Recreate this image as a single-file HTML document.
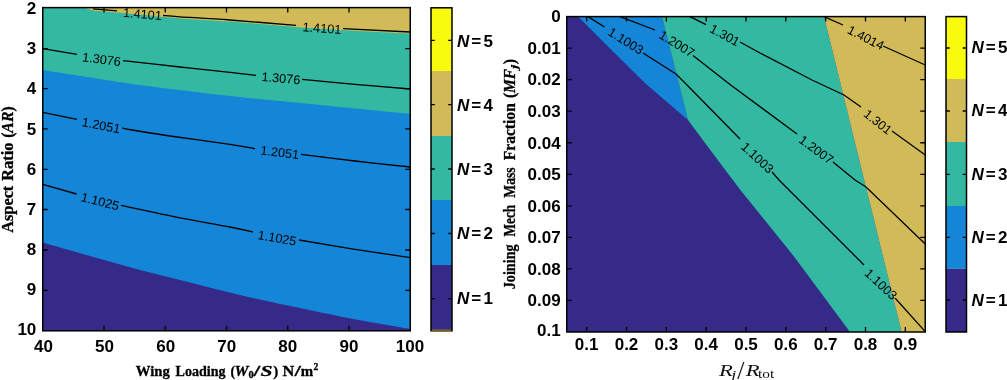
<!DOCTYPE html>
<html><head><meta charset="utf-8"><title>Contour plots</title>
<style>
html,body{margin:0;padding:0;background:#fff;}
svg{display:block;}
.tk{font-family:"Liberation Sans",sans-serif;font-weight:bold;font-size:17px;fill:#000;}
.cl{font-family:"Liberation Sans",sans-serif;font-size:12.7px;fill:#000;text-anchor:middle;}
.sl{font-family:"Liberation Serif",serif;font-size:15px;fill:#000;font-weight:bold;stroke:#000;stroke-width:0.3px;}
.ln{fill:none;stroke:#000;stroke-width:1.5;}
.ct{fill:none;stroke:#000;stroke-width:1.3;}
.tl{fill:none;stroke:#000;stroke-width:1.3;}
</style></head><body>
<svg width="1007" height="380" viewBox="0 0 1007 380">
<rect x="0" y="0" width="1007" height="380" fill="#fff"/>
<g id="leftplot">
<rect x="42.75" y="7.6" width="367.5" height="323.2" fill="#1485D7"/>
<path d="M42.75 70.00 C58.96 72.50 107.96 80.58 140.00 85.00 C172.04 89.42 204.17 93.07 235.00 96.50 C265.83 99.93 295.79 102.68 325.00 105.60 C354.21 108.52 396.04 112.60 410.25 114.00 L410.25 7.6 L42.75 7.6 Z" fill="#33B8A1"/>
<path d="M85.00 7.60 C86.33 8.07 87.67 9.60 93.00 10.40 C98.33 11.20 108.83 11.67 117.00 12.40 C125.17 13.13 134.33 14.02 142.00 14.80 C149.67 15.58 156.67 16.50 163.00 17.10 C169.33 17.70 168.83 17.65 180.00 18.40 C191.17 19.15 210.67 20.17 230.00 21.60 C249.33 23.03 280.83 25.80 296.00 27.00 C311.17 28.20 313.17 28.27 321.00 28.80 C328.83 29.33 328.12 29.40 343.00 30.20 C357.88 31.00 399.04 33.03 410.25 33.60 L410.25 7.6 L85 7.6 Z" fill="#D1BB59"/>
<path d="M42.75 242.40 C50.62 244.67 73.79 251.40 90.00 256.00 C106.21 260.60 123.33 265.60 140.00 270.00 C156.67 274.40 173.33 278.23 190.00 282.40 C206.67 286.57 223.67 291.13 240.00 295.00 C256.33 298.87 270.00 301.77 288.00 305.60 C306.00 309.43 327.62 314.10 348.00 318.00 C368.38 321.90 399.88 327.17 410.25 329.00 L410.25 330.8 L42.75 330.8 Z" fill="#352A87"/>
<path class="ct" d="M93.00 8.80 L117.00 10.80"/>
<path class="ct" d="M163.00 15.50 C165.83 15.72 168.83 16.05 180.00 16.80 C191.17 17.55 210.67 18.57 230.00 20.00 C249.33 21.43 285.00 24.50 296.00 25.40"/>
<path class="ct" d="M343.00 28.60 L410.25 32.00"/>
<text class="cl" transform="translate(142.5 13.9) rotate(5)" y="4.6">1.4101</text>
<text class="cl" transform="translate(322 28.1) rotate(4)" y="4.6">1.4101</text>
<path class="ct" d="M42.75 48.60 L77.00 54.40"/>
<path class="ct" d="M123.00 60.60 C132.50 61.67 162.17 65.03 180.00 67.00 C197.83 68.97 217.33 71.00 230.00 72.40 C242.67 73.80 251.67 74.90 256.00 75.40"/>
<path class="ct" d="M302.00 79.40 C310.83 80.22 336.96 82.70 355.00 84.30 C373.04 85.90 401.04 88.22 410.25 89.00"/>
<text class="cl" transform="translate(101.5 59.1) rotate(7.5)" y="4.6">1.3076</text>
<text class="cl" transform="translate(281 78) rotate(5)" y="4.6">1.3076</text>
<path class="ct" d="M42.75 112.40 L77.00 119.40"/>
<path class="ct" d="M122.40 128.00 C124.00 128.33 124.07 128.67 132.00 130.00 C139.93 131.33 153.67 133.60 170.00 136.00 C186.33 138.40 215.83 142.30 230.00 144.40 C244.17 146.50 250.83 147.90 255.00 148.60"/>
<path class="ct" d="M301.00 154.40 C310.00 155.50 336.79 158.90 355.00 161.00 C373.21 163.10 401.04 166.00 410.25 167.00"/>
<text class="cl" transform="translate(101.2 125.2) rotate(11)" y="4.6">1.2051</text>
<text class="cl" transform="translate(279.7 152.2) rotate(7)" y="4.6">1.2051</text>
<path class="ct" d="M42.75 184.40 L76.60 194.00"/>
<path class="ct" d="M121.00 205.40 C130.00 207.30 156.83 213.20 175.00 216.80 C193.17 220.40 217.00 224.47 230.00 227.00 C243.00 229.53 249.17 231.17 253.00 232.00"/>
<path class="ct" d="M299.00 240.00 C308.33 241.55 336.46 246.37 355.00 249.30 C373.54 252.23 401.04 256.22 410.25 257.60"/>
<text class="cl" transform="translate(100.2 201.3) rotate(14.5)" y="4.6">1.1025</text>
<text class="cl" transform="translate(277.2 237.8) rotate(10)" y="4.6">1.1025</text>
<path class="tl" d="M104.00 330.8 V325.8 M104.00 7.6 V12.6"/>
<path class="tl" d="M165.25 330.8 V325.8 M165.25 7.6 V12.6"/>
<path class="tl" d="M226.50 330.8 V325.8 M226.50 7.6 V12.6"/>
<path class="tl" d="M287.75 330.8 V325.8 M287.75 7.6 V12.6"/>
<path class="tl" d="M349.00 330.8 V325.8 M349.00 7.6 V12.6"/>
<path class="tl" d="M42.75 48.60 H47.75 M410.25 48.60 H405.25"/>
<path class="tl" d="M42.75 88.70 H47.75 M410.25 88.70 H405.25"/>
<path class="tl" d="M42.75 128.90 H47.75 M410.25 128.90 H405.25"/>
<path class="tl" d="M42.75 169.30 H47.75 M410.25 169.30 H405.25"/>
<path class="tl" d="M42.75 209.50 H47.75 M410.25 209.50 H405.25"/>
<path class="tl" d="M42.75 250.00 H47.75 M410.25 250.00 H405.25"/>
<path class="tl" d="M42.75 290.30 H47.75 M410.25 290.30 H405.25"/>
<rect class="ln" x="42.75" y="7.6" width="367.5" height="323.2"/>
<text class="tk" text-anchor="middle" x="43.50" y="351.5">40</text>
<text class="tk" text-anchor="middle" x="104.58" y="351.5">50</text>
<text class="tk" text-anchor="middle" x="165.66" y="351.5">60</text>
<text class="tk" text-anchor="middle" x="226.74" y="351.5">70</text>
<text class="tk" text-anchor="middle" x="287.82" y="351.5">80</text>
<text class="tk" text-anchor="middle" x="348.90" y="351.5">90</text>
<text class="tk" text-anchor="middle" x="409.98" y="351.5">100</text>
<text class="tk" text-anchor="end" x="36.3" y="14.10">2</text>
<text class="tk" text-anchor="end" x="36.3" y="54.25">3</text>
<text class="tk" text-anchor="end" x="36.3" y="94.40">4</text>
<text class="tk" text-anchor="end" x="36.3" y="134.55">5</text>
<text class="tk" text-anchor="end" x="36.3" y="174.70">6</text>
<text class="tk" text-anchor="end" x="36.3" y="214.85">7</text>
<text class="tk" text-anchor="end" x="36.3" y="255.00">8</text>
<text class="tk" text-anchor="end" x="36.3" y="295.15">9</text>
<text class="tk" text-anchor="end" x="36.3" y="335.30">10</text>
<g transform="translate(0 375.5)">
<text class="sl" x="135.8" textLength="34.1" lengthAdjust="spacingAndGlyphs">Wing</text>
<text class="sl" x="175.6" textLength="50.0" lengthAdjust="spacingAndGlyphs">Loading</text>
<text class="sl" x="230.6" textLength="4.6" lengthAdjust="spacingAndGlyphs">(</text>
<text class="sl" x="234.6" textLength="14.0" lengthAdjust="spacingAndGlyphs" style="font-style:italic">W</text>
<text class="sl" x="248.4" textLength="5.2" lengthAdjust="spacingAndGlyphs" style="font-size:10.5px" y="2.6">0</text>
<text class="sl" x="253.6" textLength="6.8" lengthAdjust="spacingAndGlyphs">/</text>
<text class="sl" x="260.6" textLength="12.0" lengthAdjust="spacingAndGlyphs" style="font-style:italic">S</text>
<text class="sl" x="273.2" textLength="5.0" lengthAdjust="spacingAndGlyphs">)</text>
<text class="sl" x="282.6" textLength="11.8" lengthAdjust="spacingAndGlyphs">N</text>
<text class="sl" x="294.4" textLength="6.4" lengthAdjust="spacingAndGlyphs">/</text>
<text class="sl" x="300.8" textLength="12.4" lengthAdjust="spacingAndGlyphs">m</text>
<text class="sl" x="313.4" textLength="4.8" lengthAdjust="spacingAndGlyphs" style="font-size:10.5px" y="-5.2">2</text>
</g>
<g transform="translate(12.5 232.5) rotate(-90)" style="font-size:16px">
<text class="sl" x="-0.3" textLength="47.1" lengthAdjust="spacingAndGlyphs" style="font-size:16px">Aspect</text>
<text class="sl" x="51.5" textLength="38.5" lengthAdjust="spacingAndGlyphs" style="font-size:16px">Ratio</text>
<text class="sl" x="94.8" textLength="5.2" lengthAdjust="spacingAndGlyphs" style="font-size:16px">(</text>
<text class="sl" x="99.8" textLength="21.2" lengthAdjust="spacingAndGlyphs" style="font-size:16px;font-style:italic">AR</text>
<text class="sl" x="121.0" textLength="5.2" lengthAdjust="spacingAndGlyphs" style="font-size:16px">)</text>
</g>
</g>
<g id="cbar1">
<rect x="431" y="7.8" width="21" height="63.2" fill="#F9FB0E"/>
<rect x="431" y="71" width="21" height="65" fill="#D1BB59"/>
<rect x="431" y="136" width="21" height="64" fill="#33B8A1"/>
<rect x="431" y="200" width="21" height="65" fill="#1485D7"/>
<rect x="431" y="265" width="21" height="65.80000000000001" fill="#352A87"/>
<path class="tl" d="M431 40.3 h3.8 M452 40.3 h-3.8"/>
<text class="tk" y="46.70"><tspan x="457.1" font-style="italic">N</tspan><tspan x="471.3">=</tspan><tspan x="483.5">5</tspan></text>
<path class="tl" d="M431 104.7 h3.8 M452 104.7 h-3.8"/>
<text class="tk" y="110.70"><tspan x="457.1" font-style="italic">N</tspan><tspan x="471.3">=</tspan><tspan x="483.5">4</tspan></text>
<path class="tl" d="M431 169 h3.8 M452 169 h-3.8"/>
<text class="tk" y="175.00"><tspan x="457.1" font-style="italic">N</tspan><tspan x="471.3">=</tspan><tspan x="483.5">3</tspan></text>
<path class="tl" d="M431 233.5 h3.8 M452 233.5 h-3.8"/>
<text class="tk" y="239.20"><tspan x="457.1" font-style="italic">N</tspan><tspan x="471.3">=</tspan><tspan x="483.5">2</tspan></text>
<path class="tl" d="M431 298.7 h3.8 M452 298.7 h-3.8"/>
<text class="tk" y="304.10"><tspan x="457.1" font-style="italic">N</tspan><tspan x="471.3">=</tspan><tspan x="483.5">1</tspan></text>
<rect class="ln" x="431" y="7.8" width="21" height="323"/>
<rect x="431.75" y="329.5" width="19.5" height="1.3" fill="#8a7a10"/>
</g>
<g id="rightplot">
<rect x="566.75" y="16.6" width="358.5" height="315.4" fill="#352A87"/>
<polygon points="578.00,16.60 662.00,16.60 688.00,120.00 667.00,102.00 645.50,83.50 612.00,50.50" fill="#1485D7"/>
<polygon points="662.00,16.60 824.00,16.60 901.60,332.00 850.00,332.00 794.00,256.50 740.00,189.50 714.00,155.00 688.00,120.00" fill="#33B8A1"/>
<polygon points="824.00,16.60 925.25,16.60 925.25,332.00 901.60,332.00" fill="#D1BB59"/>
<polyline class="ct" points="588.00,16.60 604.50,27.00"/>
<polyline class="ct" points="643.00,53.00 676.00,74.00 688.00,86.00 740.00,139.00"/>
<polyline class="ct" points="772.00,172.00 779.00,180.00 855.00,256.00 864.00,265.00"/>
<polyline class="ct" points="895.00,298.00 925.25,331.60"/>
<text class="cl" transform="translate(626 40.7) rotate(32)" y="4.6">1.1003</text>
<text class="cl" transform="translate(757.5 157.5) rotate(43)" y="4.6">1.1003</text>
<text class="cl" transform="translate(881 284) rotate(43)" y="4.6">1.1003</text>
<polyline class="ct" points="620.00,16.60 655.00,30.00"/>
<polyline class="ct" points="693.00,55.60 730.00,84.50 797.00,134.00"/>
<polyline class="ct" points="833.00,162.00 855.00,180.00 866.00,187.00 925.25,244.00"/>
<text class="cl" transform="translate(677 43.6) rotate(32)" y="4.6">1.2007</text>
<text class="cl" transform="translate(816.5 149.5) rotate(36)" y="4.6">1.2007</text>
<polyline class="ct" points="690.00,16.60 706.00,24.60"/>
<polyline class="ct" points="740.00,42.00 760.00,53.00 812.00,80.00 844.00,95.00 861.00,107.00"/>
<polyline class="ct" points="892.00,131.00 925.25,155.00"/>
<text class="cl" transform="translate(725 35) rotate(28)" y="4.6">1.301</text>
<text class="cl" transform="translate(878 121.7) rotate(38)" y="4.6">1.301</text>
<polyline class="ct" points="824.00,16.60 843.00,25.00"/>
<polyline class="ct" points="883.00,46.00 925.25,65.00"/>
<text class="cl" transform="translate(866 37.4) rotate(27)" y="4.6">1.4014</text>
<path class="tl" d="M586.67 332 V327 M586.67 16.6 V21.6"/>
<text class="tk" text-anchor="middle" x="586.67" y="350.4">0.1</text>
<path class="tl" d="M626.50 332 V327 M626.50 16.6 V21.6"/>
<text class="tk" text-anchor="middle" x="626.50" y="350.4">0.2</text>
<path class="tl" d="M666.33 332 V327 M666.33 16.6 V21.6"/>
<text class="tk" text-anchor="middle" x="666.33" y="350.4">0.3</text>
<path class="tl" d="M706.17 332 V327 M706.17 16.6 V21.6"/>
<text class="tk" text-anchor="middle" x="706.17" y="350.4">0.4</text>
<path class="tl" d="M746.00 332 V327 M746.00 16.6 V21.6"/>
<text class="tk" text-anchor="middle" x="746.00" y="350.4">0.5</text>
<path class="tl" d="M785.83 332 V327 M785.83 16.6 V21.6"/>
<text class="tk" text-anchor="middle" x="785.83" y="350.4">0.6</text>
<path class="tl" d="M825.67 332 V327 M825.67 16.6 V21.6"/>
<text class="tk" text-anchor="middle" x="825.67" y="350.4">0.7</text>
<path class="tl" d="M865.50 332 V327 M865.50 16.6 V21.6"/>
<text class="tk" text-anchor="middle" x="865.50" y="350.4">0.8</text>
<path class="tl" d="M905.33 332 V327 M905.33 16.6 V21.6"/>
<text class="tk" text-anchor="middle" x="905.33" y="350.4">0.9</text>
<text class="tk" text-anchor="end" x="560.6" y="22.40">0</text>
<path class="tl" d="M566.75 48.14 H571.75 M925.25 48.14 H920.25"/>
<text class="tk" text-anchor="end" x="560.6" y="53.94">0.01</text>
<path class="tl" d="M566.75 79.68 H571.75 M925.25 79.68 H920.25"/>
<text class="tk" text-anchor="end" x="560.6" y="85.48">0.02</text>
<path class="tl" d="M566.75 111.22 H571.75 M925.25 111.22 H920.25"/>
<text class="tk" text-anchor="end" x="560.6" y="117.02">0.03</text>
<path class="tl" d="M566.75 142.76 H571.75 M925.25 142.76 H920.25"/>
<text class="tk" text-anchor="end" x="560.6" y="148.56">0.04</text>
<path class="tl" d="M566.75 174.30 H571.75 M925.25 174.30 H920.25"/>
<text class="tk" text-anchor="end" x="560.6" y="180.10">0.05</text>
<path class="tl" d="M566.75 205.84 H571.75 M925.25 205.84 H920.25"/>
<text class="tk" text-anchor="end" x="560.6" y="211.64">0.06</text>
<path class="tl" d="M566.75 237.38 H571.75 M925.25 237.38 H920.25"/>
<text class="tk" text-anchor="end" x="560.6" y="243.18">0.07</text>
<path class="tl" d="M566.75 268.92 H571.75 M925.25 268.92 H920.25"/>
<text class="tk" text-anchor="end" x="560.6" y="274.72">0.08</text>
<path class="tl" d="M566.75 300.46 H571.75 M925.25 300.46 H920.25"/>
<text class="tk" text-anchor="end" x="560.6" y="306.26">0.09</text>
<text class="tk" text-anchor="end" x="560.6" y="336.40">0.1</text>
<rect class="ln" x="566.75" y="16.6" width="358.5" height="315.4"/>
<g transform="translate(515.2 289.5) rotate(-90)">
<text class="sl" x="0.2" textLength="45.0" lengthAdjust="spacingAndGlyphs" style="font-size:16px">Joining</text>
<text class="sl" x="53.0" textLength="31.7" lengthAdjust="spacingAndGlyphs" style="font-size:16px">Mech</text>
<text class="sl" x="91.8" textLength="30.4" lengthAdjust="spacingAndGlyphs" style="font-size:16px">Mass</text>
<text class="sl" x="129.3" textLength="57.0" lengthAdjust="spacingAndGlyphs" style="font-size:16px">Fraction</text>
<text class="sl" x="191.4" textLength="5.2" lengthAdjust="spacingAndGlyphs" style="font-size:16px">(</text>
<text class="sl" x="196.4" textLength="24.2" lengthAdjust="spacingAndGlyphs" style="font-size:16px;font-style:italic">MF</text>
<text class="sl" x="220.4" textLength="4.2" lengthAdjust="spacingAndGlyphs" style="font-size:11px;font-style:italic" y="2.8">j</text>
<text class="sl" x="225.2" textLength="5.3" lengthAdjust="spacingAndGlyphs" style="font-size:16px">)</text>
</g>
<g font-family="&quot;Liberation Serif&quot;,serif" fill="#111">
<text x="719.1" y="375.6" font-size="17.5" font-style="italic" textLength="13.9" lengthAdjust="spacingAndGlyphs">R</text>
<text x="731.3" y="378.8" font-size="12" font-style="italic" textLength="5" lengthAdjust="spacingAndGlyphs">j</text>
<text x="737.3" y="379.4" font-size="24.5" textLength="7.2" lengthAdjust="spacingAndGlyphs">/</text>
<text x="745.7" y="375.6" font-size="17.5" font-style="italic" textLength="13.9" lengthAdjust="spacingAndGlyphs">R</text>
<text x="758" y="377.9" font-size="13.5" textLength="16.2" lengthAdjust="spacingAndGlyphs">tot</text>
</g>
</g>
<g id="cbar2">
<rect x="946" y="16.6" width="20.5" height="62.4" fill="#F9FB0E"/>
<rect x="946" y="79" width="20.5" height="63" fill="#D1BB59"/>
<rect x="946" y="142" width="20.5" height="64" fill="#33B8A1"/>
<rect x="946" y="206" width="20.5" height="62.80000000000001" fill="#1485D7"/>
<rect x="946" y="268.8" width="20.5" height="63.19999999999999" fill="#352A87"/>
<path class="tl" d="M946 48 h3.8 M966.5 48 h-3.8"/>
<text class="tk" y="52.90"><tspan x="971.5" font-style="italic">N</tspan><tspan x="985.7">=</tspan><tspan x="997.9">5</tspan></text>
<path class="tl" d="M946 111 h3.8 M966.5 111 h-3.8"/>
<text class="tk" y="115.90"><tspan x="971.5" font-style="italic">N</tspan><tspan x="985.7">=</tspan><tspan x="997.9">4</tspan></text>
<path class="tl" d="M946 174.3 h3.8 M966.5 174.3 h-3.8"/>
<text class="tk" y="179.50"><tspan x="971.5" font-style="italic">N</tspan><tspan x="985.7">=</tspan><tspan x="997.9">3</tspan></text>
<path class="tl" d="M946 237.3 h3.8 M966.5 237.3 h-3.8"/>
<text class="tk" y="242.50"><tspan x="971.5" font-style="italic">N</tspan><tspan x="985.7">=</tspan><tspan x="997.9">2</tspan></text>
<path class="tl" d="M946 300 h3.8 M966.5 300 h-3.8"/>
<text class="tk" y="305.50"><tspan x="971.5" font-style="italic">N</tspan><tspan x="985.7">=</tspan><tspan x="997.9">1</tspan></text>
<rect class="ln" x="946" y="16.6" width="20.5" height="315.4"/>
</g>
</svg></body></html>
